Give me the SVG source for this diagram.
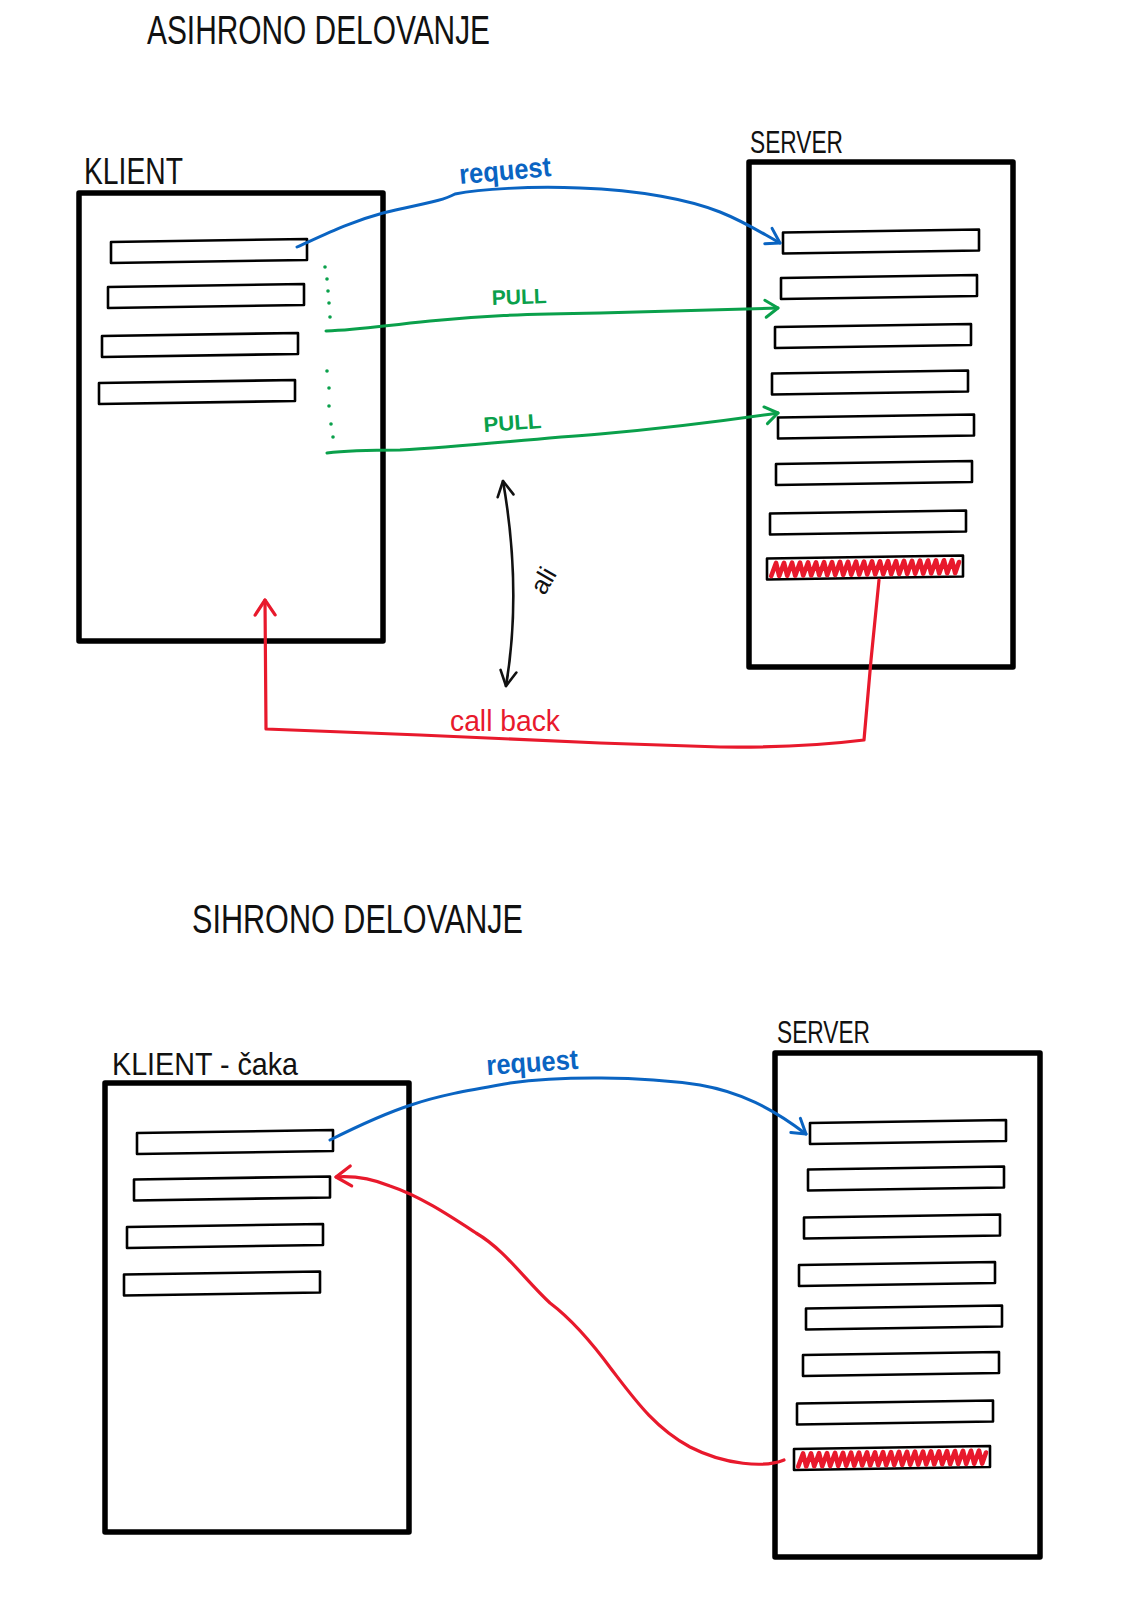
<svg xmlns="http://www.w3.org/2000/svg" xmlns:xlink="http://www.w3.org/1999/xlink" width="1140" height="1612" viewBox="0 0 1140 1612">
<style>
.bg{fill:#fff}
.box{fill:none;stroke:#000;stroke-width:5.5;stroke-linejoin:round;stroke-linecap:round}
.row{fill:#fff;stroke:#000;stroke-width:2.6;stroke-linejoin:round}
.zz{fill:none;stroke:#e8192c;stroke-width:4.6;stroke-linejoin:round;stroke-linecap:round}
.lbl{font-family:"Liberation Sans",Arial,sans-serif;fill:#111}
.t-blue{font-family:"Liberation Sans",Arial,sans-serif;fill:#0a64c2;font-weight:bold}
.t-green{font-family:"Liberation Sans",Arial,sans-serif;fill:#0aa04b;font-weight:bold}
.t-red{font-family:"Liberation Sans",Arial,sans-serif;fill:#e8192c}
.c-blue{fill:none;stroke:#0a64c2;stroke-width:3;stroke-linecap:round;stroke-linejoin:round}
.c-green{fill:none;stroke:#0aa04b;stroke-width:3;stroke-linecap:round;stroke-linejoin:round}
.c-red{fill:none;stroke:#e8192c;stroke-width:3.2;stroke-linecap:round;stroke-linejoin:round}
.c-black{fill:none;stroke:#111;stroke-width:2.6;stroke-linecap:round;stroke-linejoin:round}
.dot{fill:#0aa04b}
</style>
<defs>
<path id="row" d="M0,3 L196,0 L196,21 L0,24 Z"/>
<path id="zz" d="M0,14 l5,-13 l3,13 l5,-13 l3,13 l5,-13 l3,13 l5,-13 l3,13 l5,-13 l3,13 l5,-13 l3,13 l5,-13 l3,13 l5,-13 l3,13 l5,-13 l3,13 l5,-13 l3,13 l5,-13 l3,13 l5,-13 l3,13 l5,-13 l3,13 l5,-13 l3,13 l5,-13 l3,13 l5,-13 l3,13 l5,-13 l3,13 l5,-13 l3,13 l5,-13 l3,13 l5,-13 l3,13 l5,-13 l3,13 l5,-13 l3,13 l5,-13 l3,13 l4,-11"/>
<marker id="ah-blue" viewBox="-20 -12 24 24" markerWidth="24" markerHeight="24" refX="0" refY="0" orient="auto" markerUnits="userSpaceOnUse" overflow="visible"><path d="M-14,-9 L0,0 L-13,8" fill="none" stroke="#0a64c2" stroke-width="3" stroke-linecap="round" stroke-linejoin="round"/></marker>
<marker id="ah-green" viewBox="-20 -12 24 24" markerWidth="24" markerHeight="24" refX="0" refY="0" orient="auto" markerUnits="userSpaceOnUse" overflow="visible"><path d="M-13,-8 L0,0 L-12,9" fill="none" stroke="#0aa04b" stroke-width="3" stroke-linecap="round" stroke-linejoin="round"/></marker>
<marker id="ah-red" viewBox="-20 -12 24 24" markerWidth="24" markerHeight="24" refX="0" refY="0" orient="auto" markerUnits="userSpaceOnUse" overflow="visible"><path d="M-15,-10 L0,0 L-15,10" fill="none" stroke="#e8192c" stroke-width="3.2" stroke-linecap="round" stroke-linejoin="round"/></marker>
<marker id="ah-black" viewBox="-20 -12 24 24" markerWidth="24" markerHeight="24" refX="0" refY="0" orient="auto-start-reverse" markerUnits="userSpaceOnUse" overflow="visible"><path d="M-15,-8 L0,0 L-15,8" fill="none" stroke="#111" stroke-width="2.6" stroke-linecap="round" stroke-linejoin="round"/></marker>
</defs>
<rect class="bg" x="0" y="0" width="1140" height="1612"/>

<text class="lbl" x="147" y="44" font-size="40" textLength="343" lengthAdjust="spacingAndGlyphs">ASIHRONO DELOVANJE</text>
<text class="lbl" x="192" y="933" font-size="40" textLength="331" lengthAdjust="spacingAndGlyphs">SIHRONO DELOVANJE</text>

<g id="klient-async">
<rect class="box" x="79" y="193" width="304" height="448"/>
<text class="lbl" x="84" y="184" font-size="36" textLength="99" lengthAdjust="spacingAndGlyphs">KLIENT</text>
<use href="#row" class="row" x="111" y="239"/>
<use href="#row" class="row" x="108" y="284"/>
<use href="#row" class="row" x="102" y="333"/>
<use href="#row" class="row" x="99" y="380"/>
</g>

<g id="server-async">
<rect class="box" x="749" y="162" width="264" height="505"/>
<text class="lbl" x="750" y="153" font-size="32" textLength="93" lengthAdjust="spacingAndGlyphs">SERVER</text>
<use href="#row" class="row" x="783" y="229.5"/>
<use href="#row" class="row" x="781" y="275"/>
<use href="#row" class="row" x="775" y="324"/>
<use href="#row" class="row" x="772" y="370.5"/>
<use href="#row" class="row" x="778" y="414.5"/>
<use href="#row" class="row" x="776" y="461"/>
<use href="#row" class="row" x="770" y="510.5"/>
<use href="#row" class="row" x="767" y="555.5"/>
<use href="#zz" class="zz" transform="translate(771,562) rotate(-0.9)"/>
</g>

<g id="klient-sync">
<rect class="box" x="105" y="1083" width="304" height="449"/>
<text class="lbl" x="112" y="1075" font-size="32" textLength="186" lengthAdjust="spacingAndGlyphs">KLIENT - čaka</text>
<use href="#row" class="row" x="137" y="1130"/>
<use href="#row" class="row" x="134" y="1176.5"/>
<use href="#row" class="row" x="127" y="1224"/>
<use href="#row" class="row" x="124" y="1271.5"/>
</g>

<g id="server-sync">
<rect class="box" x="775" y="1053" width="265" height="504"/>
<text class="lbl" x="777" y="1043" font-size="31" textLength="93" lengthAdjust="spacingAndGlyphs">SERVER</text>
<use href="#row" class="row" x="810" y="1120"/>
<use href="#row" class="row" x="808" y="1166.5"/>
<use href="#row" class="row" x="804" y="1214.5"/>
<use href="#row" class="row" x="799" y="1262"/>
<use href="#row" class="row" x="806" y="1305.5"/>
<use href="#row" class="row" x="803" y="1352"/>
<use href="#row" class="row" x="797" y="1400.5"/>
<use href="#row" class="row" x="794" y="1446"/>
<use href="#zz" class="zz" transform="translate(798,1452.5) rotate(-0.9)"/>
</g>

<g id="connectors">
<path class="c-blue" marker-end="url(#ah-blue)" d="M297,247 C330,232 350,222 383,213 C420,204 440,202 455,194 C480,189 530,186 580,188 C640,190 690,200 720,212 C745,222 760,232 780,243"/>
<text class="t-blue" font-size="28" textLength="92" lengthAdjust="spacingAndGlyphs" transform="translate(460,184) rotate(-5)">request</text>

<g id="waiting-dots">
<circle class="dot" cx="325" cy="267" r="1.8"/>
<circle class="dot" cx="327" cy="279" r="1.8"/>
<circle class="dot" cx="328" cy="291" r="1.8"/>
<circle class="dot" cx="329" cy="303" r="1.8"/>
<circle class="dot" cx="330" cy="317" r="1.8"/>
<circle class="dot" cx="327" cy="371" r="1.8"/>
<circle class="dot" cx="329" cy="388" r="1.8"/>
<circle class="dot" cx="329" cy="406" r="1.8"/>
<circle class="dot" cx="331" cy="424" r="1.8"/>
<circle class="dot" cx="333" cy="437" r="1.8"/>
</g>

<path class="c-green" marker-end="url(#ah-green)" d="M326,331 C360,330 380,326 430,321 C480,316 520,314 600,313 C680,311 730,309 778,308"/>
<text class="t-green" font-size="21" textLength="55" lengthAdjust="spacingAndGlyphs" transform="translate(492,305) rotate(-2)">PULL</text>

<path class="c-green" marker-end="url(#ah-green)" d="M327,453 C350,450 370,450 400,450 C460,447 520,440 600,434 C680,427 730,420 778,413"/>
<text class="t-green" font-size="21" textLength="58" lengthAdjust="spacingAndGlyphs" transform="translate(484,432) rotate(-4)">PULL</text>

<path class="c-black" marker-start="url(#ah-black)" marker-end="url(#ah-black)" d="M503,481 Q522,590 506,686"/>
<text class="lbl" font-size="26" text-anchor="middle" transform="translate(551,585) rotate(-60)">ali</text>

<path class="c-red" marker-end="url(#ah-red)" d="M879,580 L871,660 L864,740 Q800,748 720,747 L600,743 L420,735 L266,729 L265,600"/>
<text class="t-red" x="450" y="731" font-size="30" textLength="110" lengthAdjust="spacingAndGlyphs">call back</text>

<path class="c-blue" marker-end="url(#ah-blue)" d="M330,1140 C350,1130 380,1115 411,1105 C440,1095 470,1090 510,1083 C560,1076 640,1076 700,1085 C740,1092 772,1108 806,1134"/>
<text class="t-blue" font-size="28" textLength="92" lengthAdjust="spacingAndGlyphs" transform="translate(487,1075) rotate(-4)">request</text>

<path class="c-red" marker-end="url(#ah-red)" d="M784,1460 C765,1468 725,1465 690,1447 C655,1428 635,1400 612,1370 C590,1340 570,1318 550,1303 C525,1280 505,1250 476,1233 C450,1216 420,1196 390,1186 C370,1178 350,1176 336,1177"/>
</g>
</svg>
